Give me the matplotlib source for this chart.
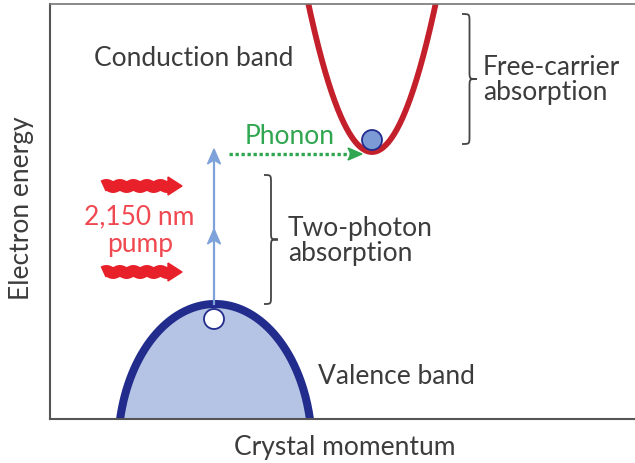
import numpy as np
import matplotlib.pyplot as plt
from matplotlib.path import Path
from matplotlib.patches import PathPatch, Polygon, Circle

plt.rcParams['font.family'] = ['Lato', 'DejaVu Sans']

# band diagram in pixel-like units (k across, E up)
valence_peak = (165, 115)      # k, E at the top of the valence band
valence_semi = (97, 145)       # horizontal / vertical semi-axes of the valence dome
conduction_min = (322, 267)    # k, E at the bottom of the conduction band
conduction_curv = 0.0366       # E = Emin + c (k - kmin)^2

electron = (322, 279)          # electron sitting in the conduction valley
hole = (164, 100)              # hole left at the valence maximum
photon_steps = [115, 190, 270] # energies along the two-photon arrow
phonon_k = [179, 312]
phonon_E = 265
pump_E = [233, 147]

band_labels = ['Conduction band', 'Valence band']
process_labels = ['Two-photon\nabsorption', 'Free-carrier\nabsorption']
pump_label = ['2,150 nm', 'pump']

TEXT = '#3c3c3c'
NAVY = '#222c8c'
RED_BAND = '#c4202c'
PHOTON = '#7ea2da'
GREEN = '#2fa64f'
PUMP = '#e8202a'
FS = 19

fig = plt.figure(figsize=(6.35, 4.64), dpi=100)
ax = fig.add_axes([50/635, 44/464, 585/635, 415/464])
ax.set_xlim(0, 585)
ax.set_ylim(0, 415)
ax.set_xticks([])
ax.set_yticks([])
ax.spines['right'].set_visible(False)
for s in ['left', 'bottom']:
    ax.spines[s].set_color('#555555')
    ax.spines[s].set_linewidth(1.5)
ax.spines['top'].set_color('#777777')
ax.spines['top'].set_linewidth(1.2)

# valence band: elliptical dome cut off by the axis
theta = np.linspace(0, np.pi, 300)
vk = valence_peak[0] + valence_semi[0] * np.cos(theta)
vE = valence_peak[1] - valence_semi[1] + valence_semi[1] * np.sin(theta)
ax.fill(vk, vE, color='#b5c4e4', zorder=1)
ax.plot(vk, vE, color=NAVY, lw=5.8, solid_capstyle='butt', zorder=2)

# conduction band parabola
ck = np.linspace(conduction_min[0] - 80, conduction_min[0] + 80, 300)
cE = conduction_min[1] + conduction_curv * (ck - conduction_min[0])**2
ax.plot(ck, cE, color=RED_BAND, lw=4.2, zorder=2)

# two-photon arrow with a head at each photon step
ak = hole[0]
ax.plot([ak, ak], [photon_steps[0], photon_steps[-1] - 4], color=PHOTON, lw=1.6, zorder=3)
for e in photon_steps[1:]:
    ax.add_patch(Polygon([[ak, e], [ak - 6.5, e - 15], [ak, e - 11], [ak + 6.5, e - 15]],
                         closed=True, color=PHOTON, zorder=3))

# phonon-assisted transfer
ax.plot([phonon_k[0], phonon_k[1] - 10], [phonon_E, phonon_E], color=GREEN, lw=2.4,
        linestyle=(0, (1, 0.8)), zorder=3)
ax.add_patch(Polygon([[phonon_k[1], phonon_E], [phonon_k[1] - 14, phonon_E + 6],
                      [phonon_k[1] - 11, phonon_E], [phonon_k[1] - 14, phonon_E - 6]],
                     closed=True, color=GREEN, zorder=3))
ax.text(240, 283, 'Phonon', color=GREEN, fontsize=FS, ha='center', va='center')

# carriers
ax.add_patch(Circle(hole, 10, facecolor='white', edgecolor=NAVY, lw=1.3, zorder=4))
ax.add_patch(Circle(electron, 10, facecolor='#7b9ad6', edgecolor=NAVY, lw=1.3, zorder=4))

# wavy pump photons
for e in pump_E:
    wx = np.linspace(53, 121, 200)
    wy = e + 1.1 * np.sin(2 * np.pi * (wx - 53) / 13.5)
    ax.plot(wx, wy, color=PUMP, lw=8.5, solid_capstyle='butt', zorder=3)
    ax.add_patch(Polygon([[118, e + 9], [132, e], [118, e - 9]], closed=True,
                         color=PUMP, zorder=3))
ax.text(89, 203, pump_label[0], color='#f04850', fontsize=FS, ha='center', va='center')
ax.text(90, 175, pump_label[1], color='#f04850', fontsize=FS, ha='center', va='center')


def brace(x0, y_top, y_bot, width):
    # right-pointing curly brace, ends curling back to x0
    xs = x0 + width * 0.5
    xt = x0 + width
    ym = (y_top + y_bot) / 2
    r = 8
    verts = [(x0, y_top), (xs, y_top), (xs, y_top), (xs, y_top - r),
             (xs, ym + r),
             (xs, ym), (xs, ym), (xt, ym),
             (xs, ym), (xs, ym), (xs, ym - r),
             (xs, y_bot + r),
             (xs, y_bot), (xs, y_bot), (x0, y_bot)]
    codes = [Path.MOVETO, Path.CURVE4, Path.CURVE4, Path.CURVE4,
             Path.LINETO,
             Path.CURVE4, Path.CURVE4, Path.CURVE4,
             Path.CURVE4, Path.CURVE4, Path.CURVE4,
             Path.LINETO,
             Path.CURVE4, Path.CURVE4, Path.CURVE4]
    ax.add_patch(PathPatch(Path(verts, codes), fill=False, edgecolor='#444444', lw=1.3))


brace(214, 244, 115, 14)
brace(412, 405, 275, 15)

ax.text(238, 179, process_labels[0], color=TEXT, fontsize=FS, ha='left', va='center',
        linespacing=1.0)
ax.text(433, 340, process_labels[1], color=TEXT, fontsize=FS, ha='left', va='center',
        linespacing=1.0)
ax.text(144, 361, band_labels[0], color=TEXT, fontsize=FS, ha='center', va='center')
ax.text(268, 43, band_labels[1], color=TEXT, fontsize=FS, ha='left', va='center')

fig.text(22/635, 1 - 208/464, 'Electron energy', color=TEXT, fontsize=FS, rotation=90,
         ha='center', va='center')
fig.text(345/635, 1 - 448/464, 'Crystal momentum', color=TEXT, fontsize=FS,
         ha='center', va='center')

fig.savefig('out.png', dpi=100)
